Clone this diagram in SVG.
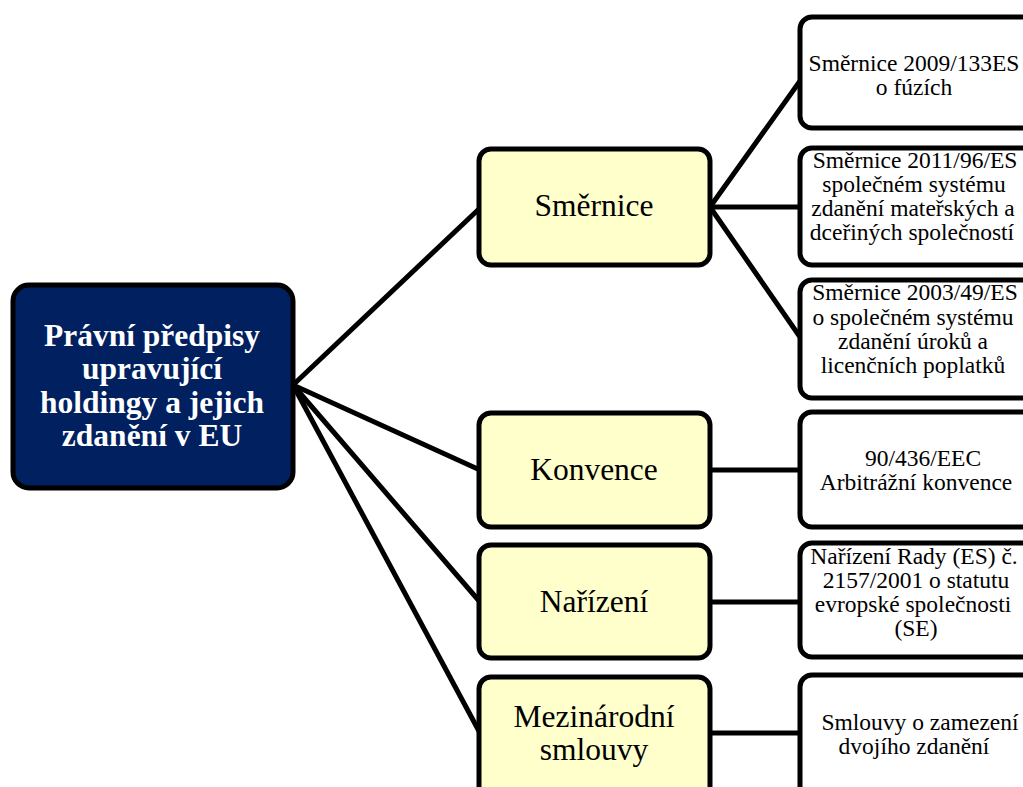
<svg xmlns="http://www.w3.org/2000/svg" width="1023" height="787" viewBox="0 0 1023 787">
<style>
.box{stroke:#000;stroke-width:5}
.root{fill:#002060}
.mid{fill:#FFFFCC}
.leaf{fill:#FFFFFF}
.edge{stroke:#000;stroke-width:5;fill:none;stroke-linecap:round}
.t{font-family:"Liberation Serif","Times New Roman",serif;text-anchor:middle;fill:#000}
.rt{font-size:31.5px;font-weight:bold;fill:#FFFFFF}
.mt{font-size:31.5px}
.lt{font-size:23.5px}
</style>
<rect width="1023" height="787" fill="#FFFFFF"/>
<g id="connectors">
<line class="edge" x1="293" y1="385" x2="480" y2="208"/>
<line class="edge" x1="293" y1="385" x2="480" y2="470"/>
<line class="edge" x1="293" y1="385" x2="480" y2="602"/>
<line class="edge" x1="293" y1="385" x2="480" y2="733"/>
<line class="edge" x1="710" y1="207" x2="800" y2="81"/>
<line class="edge" x1="710" y1="207" x2="800" y2="207"/>
<line class="edge" x1="710" y1="207" x2="800" y2="337"/>
<line class="edge" x1="710" y1="470" x2="800" y2="470"/>
<line class="edge" x1="710" y1="602" x2="800" y2="602"/>
<line class="edge" x1="710" y1="733" x2="800" y2="733"/>
</g>
<g id="root">
<rect class="box root" x="13" y="285" width="280" height="203" rx="16"/>
<text class="t rt" x="152" y="346">Právní předpisy</text>
<text class="t rt" x="152" y="379">upravující</text>
<text class="t rt" x="152" y="413">holdingy a jejich</text>
<text class="t rt" x="152" y="446">zdanění v EU</text>
</g>
<g id="smernice">
<rect class="box mid" x="479" y="149" width="231" height="116" rx="12"/>
<text class="t mt" x="594" y="216">Směrnice</text>
</g>
<g id="konvence">
<rect class="box mid" x="479" y="413" width="231" height="114" rx="12"/>
<text class="t mt" x="594" y="480">Konvence</text>
</g>
<g id="narizeni">
<rect class="box mid" x="479" y="545" width="231" height="113" rx="12"/>
<text class="t mt" x="594" y="612">Nařízení</text>
</g>
<g id="mezinarodni">
<rect class="box mid" x="479" y="677" width="231" height="130" rx="12"/>
<text class="t mt" x="594" y="727">Mezinárodní</text>
<text class="t mt" x="594" y="760">smlouvy</text>
</g>
<g id="leaf1">
<rect class="box leaf" x="800" y="17" width="250" height="111" rx="12"/>
<text class="t lt" x="914" y="71">Směrnice 2009/133ES</text>
<text class="t lt" x="914" y="95">o fúzích</text>
</g>
<g id="leaf2">
<rect class="box leaf" x="800" y="148" width="250" height="117" rx="12"/>
<text class="t lt" x="915" y="168">Směrnice 2011/96/ES</text>
<text class="t lt" x="914" y="192">společném systému</text>
<text class="t lt" x="913" y="216">zdanění  mateřských a</text>
<text class="t lt" x="912" y="240">dceřiných společností</text>
</g>
<g id="leaf3">
<rect class="box leaf" x="800" y="280" width="250" height="118" rx="12"/>
<text class="t lt" x="915" y="300">Směrnice 2003/49/ES</text>
<text class="t lt" x="913" y="325">o společném systému</text>
<text class="t lt" x="913" y="349">zdanění úroků a</text>
<text class="t lt" x="913" y="373">licenčních poplatků</text>
</g>
<g id="leaf4">
<rect class="box leaf" x="800" y="412" width="250" height="115" rx="12"/>
<text class="t lt" x="923" y="466">90/436/EEC</text>
<text class="t lt" x="916" y="490">Arbitrážní konvence</text>
</g>
<g id="leaf5">
<rect class="box leaf" x="800" y="543" width="250" height="114" rx="12"/>
<text class="t lt" x="914" y="564">Nařízení Rady (ES) č.</text>
<text class="t lt" x="916" y="588">2157/2001 o statutu</text>
<text class="t lt" x="913" y="612">evropské společnosti</text>
<text class="t lt" x="916" y="636">(SE)</text>
</g>
<g id="leaf6">
<rect class="box leaf" x="800" y="675" width="250" height="130" rx="12"/>
<text class="t lt" x="920" y="730">Smlouvy o zamezení</text>
<text class="t lt" x="914" y="754">dvojího zdanění</text>
</g>
</svg>
